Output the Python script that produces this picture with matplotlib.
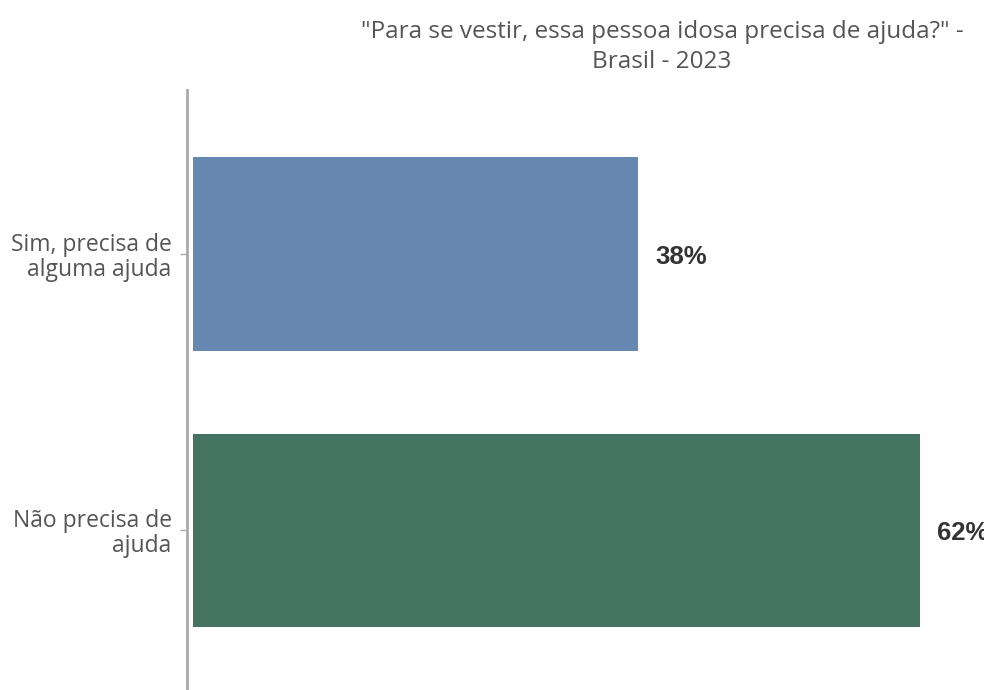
import matplotlib.pyplot as plt

# Data
categories = ['Sim, precisa de\nalguma ajuda', 'Não precisa de\najuda']
values = [38, 62]
labels = ['38%', '62%']
colors = ['#6688b0', '#457462']

title = '"Para se vestir, essa pessoa idosa precisa de ajuda?" -\nBrasil - 2023'

fig = plt.figure(figsize=(9.84, 6.9), dpi=100)
ax = fig.add_axes([187/984, 0, 1 - 187/984, 600/690])

ypos = list(range(len(categories)))
ax.barh(ypos, values, height=0.70, color=colors, left=0)

for y, v, lab in zip(ypos, values, labels):
    ax.text(v + 1.5, y + 0.01, lab, va='center', ha='left', fontsize=18.5,
            fontweight='bold', color='#333333', family='Liberation Sans',
            clip_on=False)

ax.set_xlim(-0.5, 67.5)
ax.set_ylim(1.577, -0.593)
ax.set_yticks(ypos)
ax.set_yticklabels(categories, fontsize=16.5, color='#555555', family='Open Sans',
                   linespacing=1.05)
ax.tick_params(axis='y', length=5, width=1, color='#aaaaaa', pad=6)
ax.set_xticks([])

for s in ['top', 'right', 'bottom']:
    ax.spines[s].set_visible(False)
ax.spines['left'].set_color('#aaaaaa')
ax.spines['left'].set_linewidth(2)

fig.text(662/984, 1 - 47/690, title, ha='center', va='center', fontsize=17.5,
         color='#555555', family='Open Sans', linespacing=1.3)

fig.savefig('out.png', dpi=100)
